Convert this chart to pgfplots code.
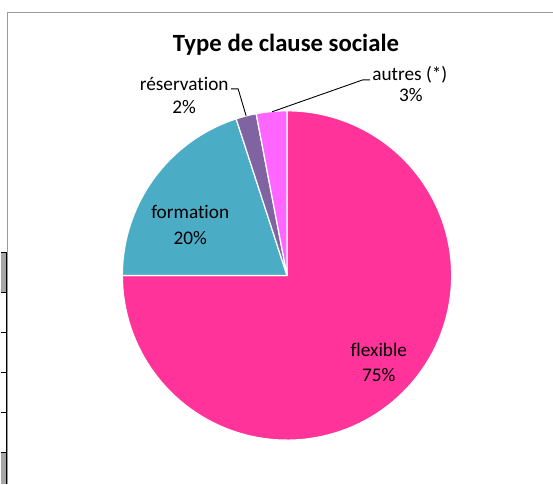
\documentclass[border=0pt]{standalone}
\usepackage{pgfplots}
\pgfplotsset{compat=1.18}
\usepackage{fontspec}
\setmainfont{Carlito}[Ligatures=NoCommon]
\definecolor{cflex}{HTML}{FF3399}
\definecolor{cform}{HTML}{4BACC6}
\definecolor{cres}{HTML}{8064A2}
\definecolor{caut}{HTML}{FF66FF}
\definecolor{cborder}{HTML}{9A9A9A}
\definecolor{ccell}{HTML}{A6A6A6}
% shares in percent (clockwise from 12 o'clock)
\def\vflex{75}
\def\vform{20}
\def\vres{2}
\def\vaut{3}
\begin{document}
\begin{tikzpicture}
\pgfmathsetmacro{\aA}{90}
\pgfmathsetmacro{\aB}{\aA-3.6*\vflex}
\pgfmathsetmacro{\aC}{\aB-3.6*\vform}
\pgfmathsetmacro{\aD}{\aC-3.6*\vres}
\pgfmathsetmacro{\aE}{\aD-3.6*\vaut}
\begin{axis}[
  scale only axis, width=553pt, height=485pt,
  xmin=0, xmax=553, ymin=0, ymax=485, y dir=reverse,
  axis lines=none, ticks=none, clip=false,
]
% full canvas
\path (axis cs:0,0) rectangle (axis cs:553,485);
% spreadsheet cells at left
\fill[ccell] (axis cs:0,253) rectangle (axis cs:6,293);
\fill[ccell] (axis cs:0,453) rectangle (axis cs:6,485);
\draw[black, line width=1.2pt] (axis cs:0,253) -- (axis cs:6,253);
\draw[black, line width=1.2pt] (axis cs:0,293) -- (axis cs:6,293);
\draw[black, line width=1.2pt] (axis cs:0,333) -- (axis cs:6,333);
\draw[black, line width=1.2pt] (axis cs:0,373) -- (axis cs:6,373);
\draw[black, line width=1.2pt] (axis cs:0,413) -- (axis cs:6,413);
\draw[black, line width=1.2pt] (axis cs:0,453) -- (axis cs:6,453);
\draw[black, line width=1.2pt] (axis cs:6,253) -- (axis cs:6,485);
% chart border
\draw[cborder, line width=1pt] (axis cs:7,485) -- (axis cs:7,12.5) -- (axis cs:553,12.5);
% slices
\addplot[fill=cflex, draw=white, line width=1.2pt, domain=\aB:\aA, samples=120]
  ({287+165*cos(x)},{276-165*sin(x)}) -- (axis cs:287,276) -- cycle;
\addplot[fill=cform, draw=white, line width=1.2pt, domain=\aC+360:\aB+360, samples=40]
  ({287+165*cos(x)},{276-165*sin(x)}) -- (axis cs:287,276) -- cycle;
\addplot[fill=cres, draw=white, line width=1.2pt, domain=\aD+360:\aC+360, samples=8]
  ({287+165*cos(x)},{276-165*sin(x)}) -- (axis cs:287,276) -- cycle;
\addplot[fill=caut, draw=white, line width=1.2pt, domain=\aE+360:\aD+360, samples=10]
  ({287+165*cos(x)},{276-165*sin(x)}) -- (axis cs:287,276) -- cycle;
% leader lines
\addplot[black, line width=0.9pt, no marks] coordinates {(231,89) (238,89) (246,116)};
\addplot[black, line width=0.9pt, no marks] coordinates {(370,80) (363,80) (272,112)};
% title
\node[anchor=base, font=\fontsize{24.8}{28}\selectfont\bfseries] at (axis cs:286,52) {Type de clause sociale};
% labels
\begin{scope}[every node/.style={anchor=base, font=\fontsize{19.3}{23}\selectfont}]
\node at (axis cs:184,90.7) {réservation};
\node at (axis cs:184,113.3) {\vres\%};
\node at (axis cs:410,80.7) {autres (*)};
\node at (axis cs:411,101.5) {\vaut\%};
\node at (axis cs:190,219) {formation};
\node at (axis cs:190,245) {\vform\%};
\node at (axis cs:379,357.7) {flexible};
\node at (axis cs:379,382.7) {\vflex\%};
\end{scope}
\end{axis}
\end{tikzpicture}
\end{document}
